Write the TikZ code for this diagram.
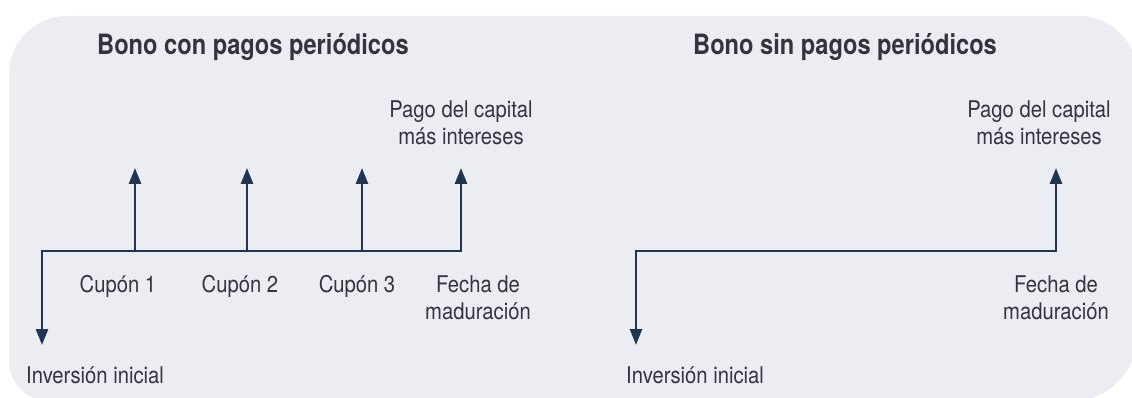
\documentclass[tikz,border=0pt]{standalone}
\usepackage{fontspec}
\setmainfont{TeX Gyre Heros}
\newfontfamily\lblfont{TeX Gyre Heros}[FakeStretch=0.88]
\newfontfamily\ttlfont{TeX Gyre Heros}[FakeStretch=0.845]
\usetikzlibrary{arrows.meta}
\definecolor{bgc}{HTML}{ECEDF3}
\definecolor{linec}{HTML}{1F3550}
\definecolor{txtc}{HTML}{34343F}
\begin{document}
\begin{tikzpicture}[x=1pt,y=-1pt,
  lbl/.style={text=txtc, font=\lblfont\fontsize{23}{27}\selectfont, inner sep=0pt, align=center, anchor=base},
  ttl/.style={text=txtc, font=\ttlfont\bfseries\fontsize{28}{32}\selectfont, inner sep=0pt, anchor=base west},
  axisline/.style={draw=linec, line width=2.6pt, line join=miter},
  tipend/.style={-{Triangle[length=16pt,width=12pt]}},
  tipboth/.style={{Triangle[length=16pt,width=12pt]}-{Triangle[length=16pt,width=12pt]}}]
\useasboundingbox (0,0) rectangle (1132,398);
\clip (0,0) rectangle (1132,398);
% background panel
\fill[bgc, rounded corners=58pt] (9,200) -- (9,16) -- (1137,16) -- (1137,200)
   [rounded corners=65pt] -- (1137,401) -- (600,401) [rounded corners=40pt] -- (9,401) -- cycle;

% ---- left diagram ----
\node[ttl] (title1) at (97,55) {Bono con pagos periódicos};
\coordinate (L0) at (42,251);
\coordinate (Ldown) at (42,345);
\coordinate (Lend) at (461,251);
\coordinate (Lup) at (461,168);
\coordinate (c1b) at (135,251); \coordinate (c1t) at (135,168);
\coordinate (c2b) at (247,251); \coordinate (c2t) at (247,168);
\coordinate (c3b) at (362,251); \coordinate (c3t) at (362,168);
\draw[axisline, tipboth] (Ldown) -- (L0) -- (Lend) -- (Lup);
\draw[axisline, tipend] (c1b) -- (c1t);
\draw[axisline, tipend] (c2b) -- (c2t);
\draw[axisline, tipend] (c3b) -- (c3t);
\node[lbl] (payL) at (461,145) {Pago del capital\\más intereses};
\node[lbl] (cup1) at (118,292) {Cupón 1};
\node[lbl] (cup2) at (240,292) {Cupón 2};
\node[lbl] (cup3) at (357,292) {Cupón 3};
\node[lbl] (fechaL) at (478,319) {Fecha de\\maduración};
\node[lbl, anchor=base west] (invL) at (26,383) {Inversión inicial};

% ---- right diagram ----
\node[ttl] (title2) at (693,55) {Bono sin pagos periódicos};
\coordinate (R0) at (636,251);
\coordinate (Rdown) at (636,345);
\coordinate (Rend) at (1056,251);
\coordinate (Rup) at (1056,168);
\draw[axisline, tipboth] (Rdown) -- (R0) -- (Rend) -- (Rup);
\node[lbl] (payR) at (1039,145) {Pago del capital\\más intereses};
\node[lbl] (fechaR) at (1056,319) {Fecha de\\maduración};
\node[lbl, anchor=base west] (invR) at (626,383) {Inversión inicial};
\end{tikzpicture}
\end{document}
